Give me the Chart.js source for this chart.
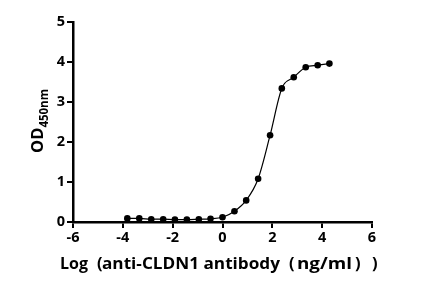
<!DOCTYPE html>
<html>
<head>
<meta charset="utf-8">
<script src="https://cdn.jsdelivr.net/npm/chart.js@4.4.1/dist/chart.umd.min.js"></script>
<style>
  html, body { margin: 0; padding: 0; background: #fff; }
  #wrap { width: 428px; height: 303px; position: relative; }
</style>
</head>
<body>
<div id="wrap"><canvas id="grafica"></canvas></div>
<script>
// --- DATOS ---
const logConc = [-3.82, -3.34, -2.86, -2.38, -1.91, -1.43, -0.95, -0.48, 0.00, 0.48, 0.95, 1.43, 1.91, 2.38, 2.86, 3.34, 3.82, 4.29];
const od450 = [0.09, 0.09, 0.07, 0.07, 0.06, 0.06, 0.07, 0.08, 0.12, 0.27, 0.54, 1.08, 2.17, 3.34, 3.62, 3.87, 3.92, 3.96];
const xTicks = [-6, -4, -2, 0, 2, 4, 6];
const yTicks = [0, 1, 2, 3, 4, 5];

// titulo X por partes (texto, x inicial, ancho objetivo)
const tituloX = [
    ['Log', 60, 28], ['(', 97, 0], ['anti-CLDN1 antibody', 102, 178], ['(', 289, 0], ['ng/ml', 297, 55], [')', 355, 0], [')', 372, 0]
];
const fuente = '"Open Sans", "DejaVu Sans", sans-serif';

const puntos = logConc.map((x, i) => ({ x: x, y: od450[i] }));

// --- TITULOS DE EJES (con subindice) ---
const titulosPlugin = {
    id: 'titulos',
    afterDraw(chart) {
        const ctx = chart.ctx;
        ctx.save();
        ctx.fillStyle = '#000';

        // titulo X
        ctx.font = 'bold 16.5px ' + fuente;
        ctx.textBaseline = 'alphabetic';
        ctx.textAlign = 'left';
        tituloX.forEach(([t, x, ancho]) => {
            ctx.save();
            ctx.translate(x, 269);
            if (ancho > 0) ctx.scale(ancho / ctx.measureText(t).width, 1);
            ctx.fillText(t, 0, 0);
            ctx.restore();
        });

        // titulo Y: OD + subindice 450nm, rotado
        ctx.translate(43, 121);
        ctx.rotate(-Math.PI / 2);
        ctx.font = 'bold 16.5px ' + fuente;
        const wOD = ctx.measureText('OD').width;
        ctx.font = 'bold 11.5px ' + fuente;
        const wSub = ctx.measureText('450nm').width;
        const inicio = -(wOD + wSub) / 2;
        ctx.font = 'bold 16.5px ' + fuente;
        ctx.fillText('OD', inicio, 0);
        ctx.font = 'bold 11.5px ' + fuente;
        ctx.fillText('450nm', inicio + wOD, 5);
        ctx.restore();
    }
};

const ctxG = document.getElementById('grafica').getContext('2d');

new Chart(ctxG, {
    type: 'scatter',
    data: {
        datasets: [
            {
                data: puntos,
                showLine: true,
                borderColor: '#000',
                borderWidth: 1.2,
                cubicInterpolationMode: 'monotone',
                pointRadius: 0,
                order: 2
            },
            {
                data: puntos,
                showLine: false,
                backgroundColor: '#000',
                borderColor: '#000',
                pointRadius: 3.3,
                pointBorderWidth: 0,
                order: 1
            }
        ]
    },
    options: {
        responsive: true,
        maintainAspectRatio: false,
        animation: false,
        layout: { padding: { left: 0, right: 56, top: 22, bottom: 0 } },
        plugins: {
            legend: { display: false },
            tooltip: { enabled: false }
        },
        scales: {
            x: {
                type: 'linear',
                min: -6,
                max: 6,
                afterBuildTicks: (scale) => { scale.ticks = xTicks.map(v => ({ value: v })); },
                afterFit: (scale) => { scale.height = 81; },
                grid: { drawOnChartArea: false, drawTicks: true, tickLength: 6, color: '#000', lineWidth: 2 },
                border: { color: '#000', width: 2.5 },
                ticks: { color: '#000', padding: 1, maxRotation: 0, font: { family: fuente, size: 14.5, weight: 'bold' } }
            },
            y: {
                type: 'linear',
                min: 0,
                max: 5,
                afterBuildTicks: (scale) => { scale.ticks = yTicks.map(v => ({ value: v })); },
                afterFit: (scale) => { scale.width = 73; },
                grid: { drawOnChartArea: false, drawTicks: true, tickLength: 6, color: '#000', lineWidth: 2 },
                border: { color: '#000', width: 2.5 },
                ticks: { color: '#000', padding: 2, font: { family: fuente, size: 14.5, weight: 'bold' } }
            }
        }
    },
    plugins: [titulosPlugin]
});
</script>
</body>
</html>
